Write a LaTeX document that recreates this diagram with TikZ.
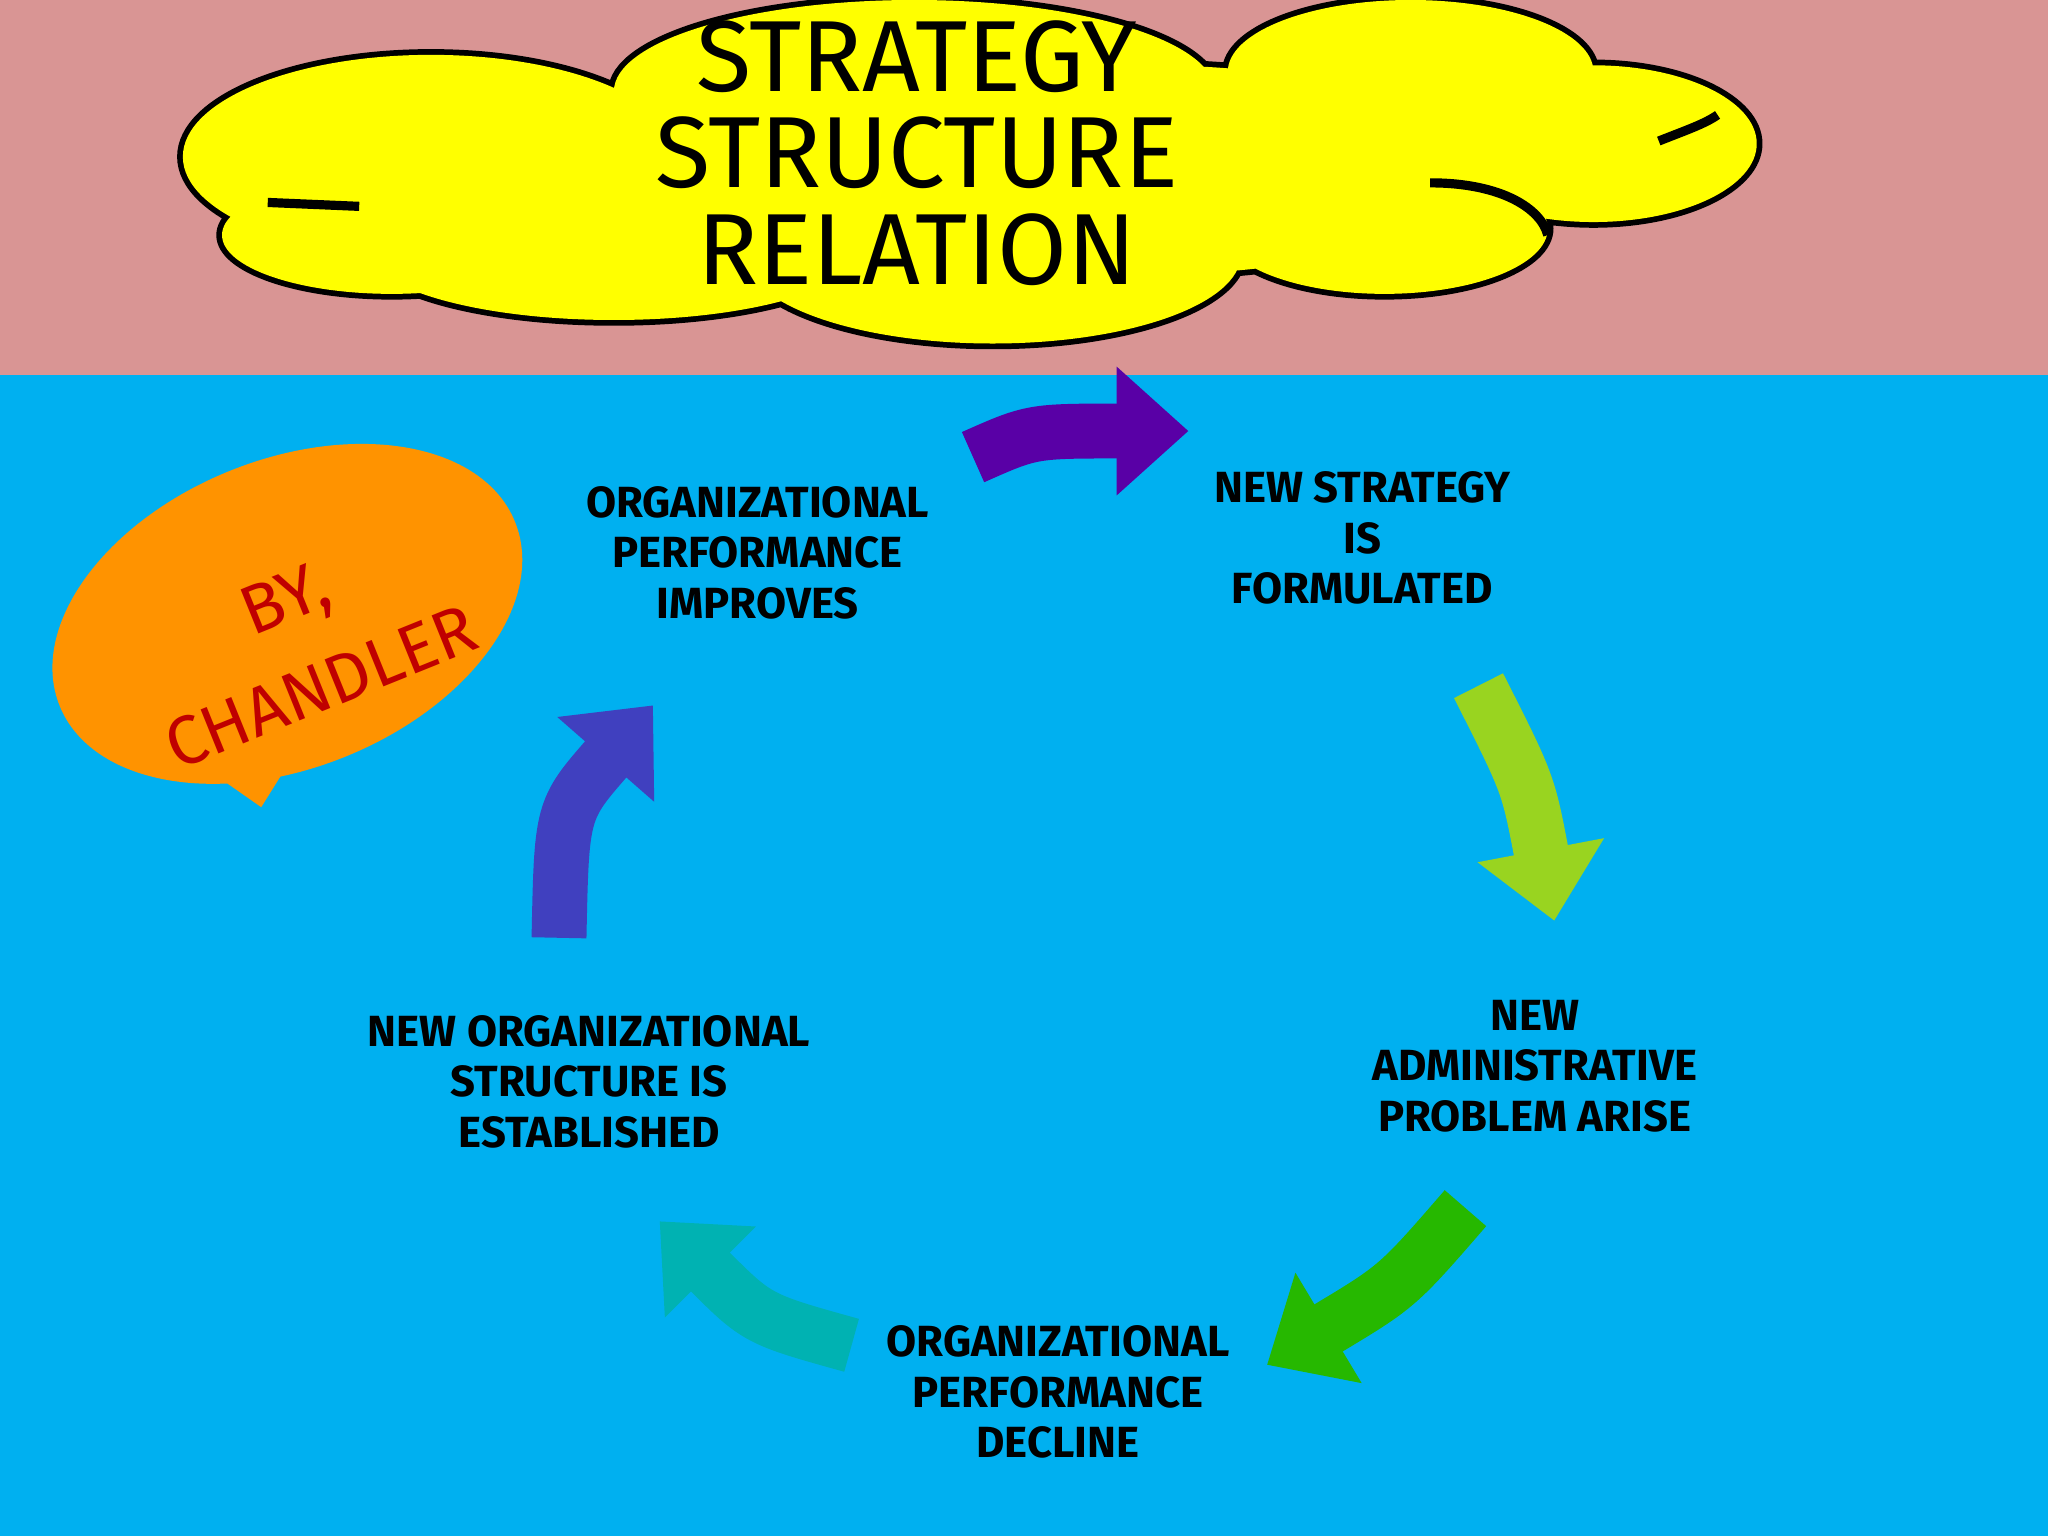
\documentclass[tikz,border=0pt]{standalone}
\usepackage{fontspec}
\setmainfont{Fira Sans}
\usetikzlibrary{arrows.meta,shapes.geometric,shapes.callouts}
\definecolor{pinkbg}{HTML}{D99594}
\definecolor{bluebg}{HTML}{00B0F0}
\definecolor{cloudy}{HTML}{FFFF00}
\tikzset{
 lbl/.style={align=center,font=\fontsize{9.5}{11}\selectfont\bfseries,text=black},
 carrow/.style={line width=0.42cm,-{Triangle[length=0.55cm,width=0.95cm]},draw=#1},
}
\begin{document}
\begin{tikzpicture}[x=0.01cm,y=-0.01cm]
\useasboundingbox (0,0) rectangle (1568,1176);
\fill[pinkbg] (0,0) rectangle (1568,287);
\fill[bluebg] (0,287) rectangle (1568,1176);
% cloud
\def\cloudparts{
 (330,120) ellipse [x radius=190,y radius=78]
 (300,180) ellipse [x radius=130,y radius=45]
 (470,190) ellipse [x radius=190,y radius=55]
 (760,195) ellipse [x radius=190,y radius=68]
 (700,70) ellipse [x radius=230,y radius=70]
 (560,140) ellipse [x radius=200,y radius=80]
 (1080,55) ellipse [x radius=140,y radius=55]
 (1220,110) ellipse [x radius=125,y radius=60]
 (1060,175) ellipse [x radius=125,y radius=50]
 (880,130) ellipse [x radius=250,y radius=80]}
\draw[line width=2.5pt] \cloudparts;
\fill[cloudy] \cloudparts;
\draw[line width=2pt] (205,155) -- (275,158);
\draw[line width=2pt] (1095,140) .. controls (1150,140) and (1180,160) .. (1185,180);
\draw[line width=2pt] (1270,108) .. controls (1290,100) and (1305,95) .. (1315,88);
\node[align=center,font=\fontsize{22}{21}\selectfont] (title) at (702,117) {STRATEGY\\STRUCTURE\\RELATION};
% bubble
\fill[orange!85!yellow] (160,590) -- (200,618) -- (230,570) -- cycle;
\fill[orange!85!yellow,rotate around={22:(220,470)}] (220,470) ellipse [x radius=188,y radius=118];
\node[rotate=22,align=center,text=red!75!black,font=\fontsize{15}{21}\selectfont] (by) at (232,492) {BY,\\CHANDLER};
% labels
\node[lbl] (a) at (580,423) {ORGANIZATIONAL\\PERFORMANCE\\IMPROVES};
\node[lbl] (b) at (1043,412) {NEW STRATEGY\\IS\\FORMULATED};
\node[lbl] (c) at (1175,816) {NEW\\ADMINISTRATIVE\\PROBLEM ARISE};
\node[lbl] (d) at (810,1066) {ORGANIZATIONAL\\PERFORMANCE\\DECLINE};
\node[lbl] (e) at (451,828) {NEW ORGANIZATIONAL\\STRUCTURE IS\\ESTABLISHED};
% arrows
\coordinate (a1) at (745,350); \coordinate (a2) at (910,330);
\coordinate (b1) at (1132,525); \coordinate (b2) at (1190,705);
\coordinate (c1) at (1122,925); \coordinate (c2) at (970,1045);
\coordinate (d1) at (652,1030); \coordinate (d2) at (505,935);
\coordinate (e1) at (428,718); \coordinate (e2) at (500,540);
\draw[carrow=violet!70!blue] (a1) .. controls (790,330) .. (a2);
\draw[carrow=yellow!60!green] (b1) .. controls (1170,600) .. (b2);
\draw[carrow=green!65!black!80!lime] (c1) .. controls (1070,985) .. (c2);
\draw[carrow=teal!60!cyan] (d1) .. controls (580,1010) .. (d2);
\draw[carrow=blue!50!gray] (e1) .. controls (430,620) .. (e2);
\end{tikzpicture}
\end{document}
